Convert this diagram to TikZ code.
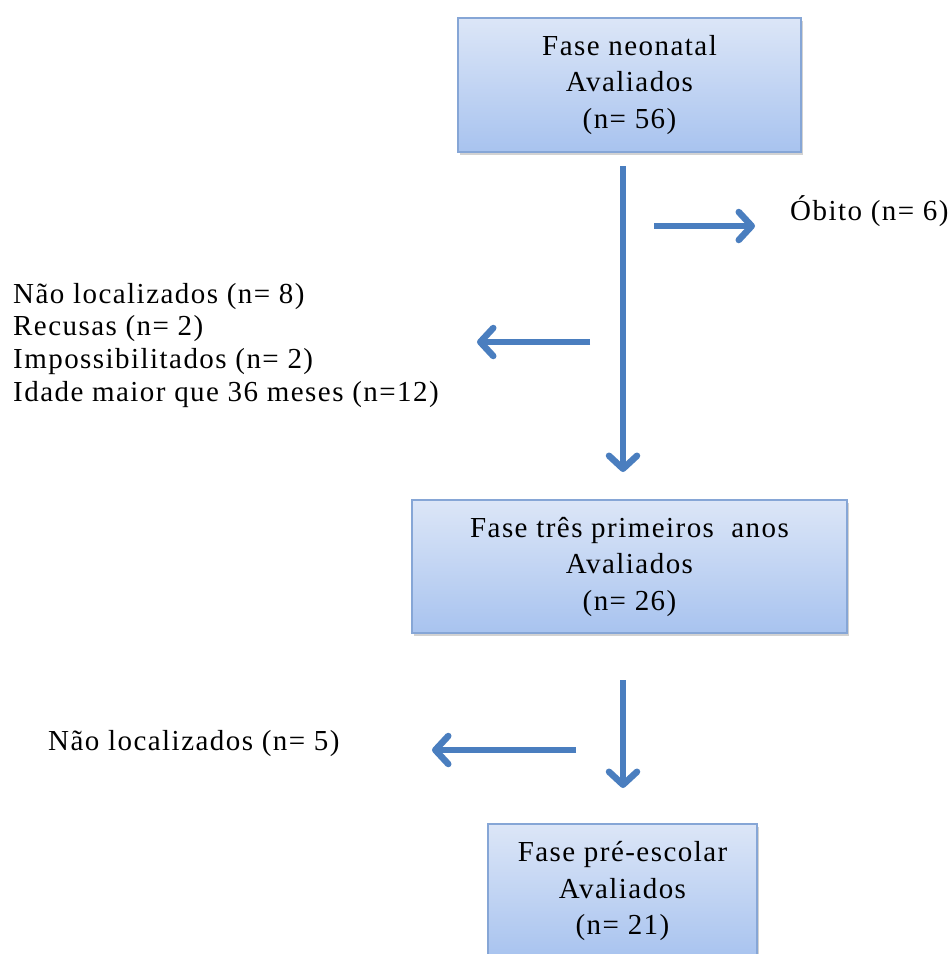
\documentclass[tikz,border=0pt]{standalone}
\usepackage{fontspec}
\setmainfont[LetterSpace=5]{Liberation Serif}
\usetikzlibrary{arrows.meta,shadows}
\definecolor{arrblue}{HTML}{4A7EBF}
\definecolor{boxtop}{HTML}{DCE6F7}
\definecolor{boxbot}{HTML}{A8C3EF}
\definecolor{boxline}{HTML}{86A6D6}
\tikzset{
  phase/.style={draw=boxline, line width=1.2pt, top color=boxtop, bottom color=boxbot,
    align=center, inner sep=0pt, font=\fontsize{29}{36.5}\selectfont,
    drop shadow={opacity=0.35, shadow xshift=1.5pt, shadow yshift=-2.5pt}},
  lbl/.style={inner sep=0pt, anchor=west, font=\fontsize{29}{33}\selectfont},
  arr/.style={draw=arrblue, line width=6.5pt,
    -{Straight Barb[length=13pt,width=28pt,line cap=round,line join=round]}}
}
\begin{document}
\begin{tikzpicture}[x=1pt,y=-1pt]
\useasboundingbox (0,0) rectangle (949,954);
\clip (0,0) rectangle (949,954);
\fill[white] (0,0) rectangle (949,954);
% boxes
\node[phase, minimum width=343pt, minimum height=134pt] (b1) at (629.5,85) {Fase neonatal\\Avaliados\\(n= 56)};
\node[phase, minimum width=435pt, minimum height=133pt] (b2) at (629.5,566.5) {Fase três primeiros \ anos\\Avaliados\\(n= 26)};
\node[phase, minimum width=269pt, minimum height=134pt] (b3) at (622.5,891) {Fase pré-escolar\\Avaliados\\(n= 21)};
% labels
\node[lbl] (obito) at (790,211) {Óbito (n= 6)};
\node[lbl] (l1) at (13,297) {Não localizados (n= 8)};
\node[lbl] (l2) at (13,329) {Recusas (n= 2)};
\node[lbl] (l3) at (13,362) {Impossibilitados (n= 2)};
\node[lbl] (l4) at (13,395) {Idade maior que 36 meses (n=12)};
\node[lbl] (l5) at (48,744) {Não localizados (n= 5)};
% connector ends
\coordinate (v1s) at (623,166);
\coordinate (v1e) at (623,472);
\coordinate (r1s) at (654,226);
\coordinate (r1e) at (755,226);
\coordinate (lf1s) at (590,342);
\coordinate (lf1e) at (477,342);
\coordinate (v2s) at (623,680);
\coordinate (v2e) at (623,788);
\coordinate (lf2s) at (576,750);
\coordinate (lf2e) at (432,750);
\draw[arr] (v1s) -- (v1e);
\draw[arr] (r1s) -- (r1e);
\draw[arr] (lf1s) -- (lf1e);
\draw[arr] (v2s) -- (v2e);
\draw[arr] (lf2s) -- (lf2e);
\end{tikzpicture}
\end{document}
